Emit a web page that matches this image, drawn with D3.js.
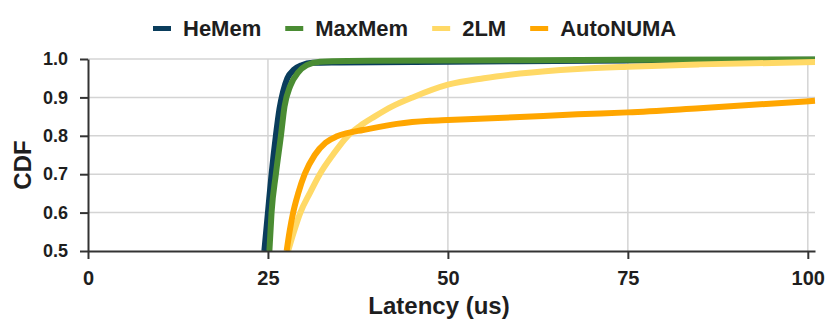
<!DOCTYPE html>
<html>
<head>
<meta charset="utf-8">
<script src="https://cdn.jsdelivr.net/npm/d3@7"></script>
<style>
  body { margin: 0; background: #fff; }
  text { font-family: "Liberation Sans", Arial, sans-serif; font-weight: bold; fill: #1e1e1e; }
</style>
</head>
<body>
<svg id="chart" width="830" height="321"></svg>
<script>
// latency (us) / CDF pairs
const hememX   = [24.5, 25.0, 25.5, 26.1, 26.6, 27.1, 27.7, 28.6, 29.7, 31.2, 35, 50, 75, 101];
const hememY   = [0.5, 0.6, 0.7, 0.8, 0.87, 0.915, 0.95, 0.972, 0.984, 0.99, 0.991, 0.993, 0.996, 0.998];
const maxmemX  = [25.2, 25.5, 26.1, 26.8, 27.3, 28.1, 29.2, 30.4, 32.2, 36, 50, 75, 101];
const maxmemY  = [0.5, 0.6, 0.7, 0.8, 0.876, 0.93, 0.965, 0.984, 0.993, 0.995, 0.996, 0.998, 0.999];
const twoLmX   = [27.8, 28.6, 29.5, 30.8, 32.2, 34.0, 36.1, 37.8, 39.8, 42.2, 45.1, 50, 55, 60, 68, 75, 85, 101];
const twoLmY   = [0.5, 0.55, 0.6, 0.65, 0.7, 0.75, 0.8, 0.826, 0.85, 0.876, 0.9, 0.933, 0.95, 0.962, 0.974, 0.98, 0.986, 0.992];
const autoNumaX = [27.6, 28.0, 28.5, 29.2, 30.1, 31.5, 33.0, 34.5, 36.0, 38.2, 42.9, 47.5, 50, 60, 68, 75, 85, 101];
const autoNumaY = [0.5, 0.55, 0.6, 0.65, 0.7, 0.75, 0.782, 0.798, 0.807, 0.815, 0.831, 0.839, 0.841, 0.849, 0.856, 0.861, 0.872, 0.891];

const seriesNames = ["HeMem", "MaxMem", "2LM", "AutoNUMA"];
const seriesColors = ["#0a3d5c", "#4a8c33", "#ffd966", "#ffa600"];
const xTicks = [0, 25, 50, 75, 100];
const yTicks = [0.5, 0.6, 0.7, 0.8, 0.9, 1.0];

const seriesData = [
  hememX.map((x, i) => [x, hememY[i]]),
  maxmemX.map((x, i) => [x, maxmemY[i]]),
  twoLmX.map((x, i) => [x, twoLmY[i]]),
  autoNumaX.map((x, i) => [x, autoNumaY[i]])
];

const svg = d3.select("#chart");
const x = d3.scaleLinear().domain([0, 101]).range([88, 815]);
const y = d3.scaleLinear().domain([0.5, 1.0]).range([251, 59]);

// gridlines
svg.append("g").selectAll("line.h")
  .data(yTicks.slice(1))
  .join("line")
  .attr("x1", x(0)).attr("x2", x(101))
  .attr("y1", d => y(d)).attr("y2", d => y(d))
  .attr("stroke", "#d4d4d4").attr("stroke-width", 1.5);
svg.append("g").selectAll("line.v")
  .data(xTicks.slice(1))
  .join("line")
  .attr("x1", d => x(d)).attr("x2", d => x(d))
  .attr("y1", y(0.5)).attr("y2", y(1.0))
  .attr("stroke", "#d4d4d4").attr("stroke-width", 1.5);

// curves
const line = d3.line()
  .x(d => x(d[0]))
  .y(d => y(d[1]))
  .curve(d3.curveMonotoneX);

svg.append("g").selectAll("path")
  .data(seriesData)
  .join("path")
  .attr("d", line)
  .attr("fill", "none")
  .attr("stroke", (d, i) => seriesColors[i])
  .attr("stroke-width", 6);

// axes
const xAxis = svg.append("g")
  .attr("transform", "translate(0," + y(0.5) + ")")
  .call(d3.axisBottom(x).tickValues(xTicks).tickSize(8).tickSizeOuter(0).tickFormat(d3.format("d")));
xAxis.select(".domain").attr("stroke", "#333").attr("stroke-width", 2);
xAxis.selectAll(".tick line").attr("stroke", "#333").attr("stroke-width", 2);
xAxis.selectAll(".tick text")
  .attr("y", 20).attr("dy", "0.71em")
  .style("font-size", "20px").style("font-family", "'Liberation Sans', Arial, sans-serif")
  .style("font-weight", "bold").attr("fill", "#1e1e1e");

const yAxis = svg.append("g")
  .attr("transform", "translate(" + x(0) + ",0)")
  .call(d3.axisLeft(y).tickValues(yTicks).tickSize(8).tickSizeOuter(0).tickFormat(d3.format(".1f")));
yAxis.select(".domain").attr("stroke", "#333").attr("stroke-width", 2);
yAxis.selectAll(".tick line").attr("stroke", "#333").attr("stroke-width", 2);
yAxis.selectAll(".tick text")
  .attr("x", -20)
  .style("font-size", "18px").style("font-family", "'Liberation Sans', Arial, sans-serif")
  .style("font-weight", "bold").attr("fill", "#1e1e1e");

// axis titles
svg.append("text")
  .attr("x", 439).attr("y", 314)
  .attr("text-anchor", "middle")
  .style("font-size", "24px")
  .text("Latency (us)");
svg.append("text")
  .attr("transform", "translate(31,165) rotate(-90)")
  .attr("text-anchor", "middle")
  .style("font-size", "24px")
  .text("CDF");

// legend
const legend = svg.append("g");
let lx = 153;
seriesNames.forEach((name, i) => {
  legend.append("rect")
    .attr("x", lx).attr("y", 26)
    .attr("width", 18).attr("height", 5)
    .attr("fill", seriesColors[i]);
  const t = legend.append("text")
    .attr("x", lx + 30).attr("y", 36)
    .style("font-size", "22px")
    .text(name);
  lx += 30 + t.node().getComputedTextLength() + 24;
});
</script>
</body>
</html>
